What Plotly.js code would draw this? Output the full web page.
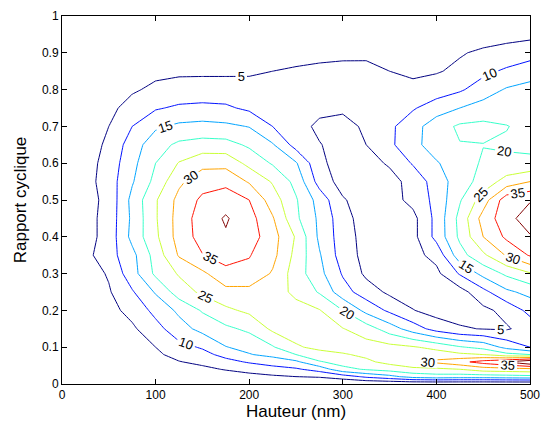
<!DOCTYPE html>
<html>
<head>
<meta charset="utf-8">
<script src="https://cdn.plot.ly/plotly-3.0.1.min.js"></script>
<style>html,body{margin:0;padding:0;background:#fff;}#chart{width:542px;height:427px;}</style>
</head>
<body>
<div id="chart"></div>
<script>
// Hauteur (nm)
const hauteur = [0,25,50,75,100,125,150,175,200,225,250,275,300,325,350,375,400,425,450,475,500];
// Rapport cyclique
const rapport = [0,0.02,0.04,0.06,0.08,0.1,0.15,0.2,0.25,0.3,0.35,0.4,0.45,0.5,0.55,0.6,0.65,0.7,0.75,0.8,0.85,0.9,0.95,1];

// z values, one row per rapport cyclique value
const r000 = [0,0,0,0,0,0,0,0,0,0,0,0,0,0,0,0,0,0,0,0,0];
const r002 = [0,0.2,0.4,0.7,1.1,1.6,2,2.7,3.3,4.2,5,5.5,7.5,11,13.5,17,18,17.5,17.5,18,18.5];
const r004 = [0,0.4,0.8,1.3,2.2,3.3,4,5.3,6.8,8.3,9.3,12,18.5,20.5,22,23.5,24,25,27.5,28,28.5];
const r006 = [0,0.6,1.2,2,3.3,4.8,6,8.5,10.5,12,14,19.5,22,24,26.5,29.5,31,33.5,37,40.3,45];
const r008 = [0,0.8,1.6,2.5,4.2,6.5,8.5,11.5,14.7,16.5,20,23.5,24.5,26,27.5,28,27.5,26,25,21.5,20];
const r010 = [0,1,2,3,5,8.5,10.5,14.8,16.5,19.5,24.5,26,27,27,26.5,25.5,23.5,20.5,18.5,13.5,10];
const r015 = [0,1.5,3,4.2,8.2,13,16.5,19,21,26,27,27,25.2,22.5,17.5,12.5,8,5.5,4.8,4.5,7];
const r020 = [0,2,3.5,6.5,11.5,16,20.5,24,26,27,26.5,25.3,20,13.5,9,5.2,3,3,3.8,6.5,11.5];
const r025 = [0,2.2,4.5,9.5,15.5,22.5,26,28.5,28.5,27,24,19.5,12,7.5,4,2.5,2.5,3,8.5,14,16.5];
const r030 = [0,2.5,5.5,13,21,25.5,29,33.5,33.5,29.5,22.5,16.5,9.5,4,2.5,2.5,3.8,10.5,16.5,21,24.5];
const r035 = [0,3.5,8,13.5,22,30.5,34.8,37,35.3,31.5,23.5,15.5,7.5,3.5,2.5,3.5,6.5,18,24,30.5,35.5];
const r040 = [0,3,7,16.5,24,32,37,39.5,37.5,32,24.5,14,7.5,3,2,3.5,11.5,21,30,36,39.5];
const r045 = [0,3,7,16,24.5,32,37.5,40.5,37,30.5,21,14,7,2.5,2,3.5,11.5,21.5,32,38,43];
const r050 = [0,3,6.5,16.5,24.5,31.5,36,38,35,27.5,20.5,13,5.5,2.5,3,6.5,11.5,19.5,27.5,38,39.5];
const r055 = [0,3,7.5,14.5,21.5,29,33,33.5,29.5,24.5,18.5,8,3,2.5,3.5,6.5,12.5,17.5,22,27,30];
const r060 = [0,2.8,7,13.5,20,25.3,28.5,28.5,23.5,19.5,15.5,6,3,3.5,5.5,10.5,14.5,18,20.5,21,21];
const r065 = [0,2.5,6,12.5,18,21,22,21.8,19.2,15.5,8,5.2,3.5,5,9,13.5,17.5,19.8,19.9,19.4,19];
const r070 = [0,2.5,5,10,14.2,16,16.5,16,14.8,10,6.5,4.2,3,6,9,13,17.8,20.8,21.2,20.2,18.5];
const r075 = [0,2.5,4,6.5,9.5,10.8,11.2,10.8,9,7.5,6.8,6,6,6.5,7.5,9.5,12.5,15,17,17.5,17.5];
const r080 = [0,2,3.5,4.5,5.8,6.8,7,7,6.8,6.6,6.6,6.8,7,7,6.8,6,7.5,9.3,12.5,15.5,16.5];
const r085 = [0,1.5,2.8,3.6,4.1,4.2,4.2,4.2,4.3,5,5.5,5.8,5.9,5.8,5,4.3,4.6,6,8.8,10.8,13];
const r090 = [0,0.5,1,1.5,2,2.3,2.5,2.5,2.6,3,3.5,4,4.3,4.4,4,3.5,3.5,4.6,5.8,6.8,7.7];
const r095 = [0,0.3,0.5,0.8,1,1.2,1.3,1.3,1.4,1.6,1.8,2,2.2,2.2,2,1.8,1.8,2.3,2.8,3.3,3.8];
const r100 = [0,0,0,0,0,0,0,0,0,0,0,0,0,0,0,0,0,0,0,0,0];

const zGrid = [r000,r002,r004,r006,r008,r010,r015,r020,r025,r030,r035,r040,r045,r050,r055,r060,r065,r070,r075,r080,r085,r090,r095,r100];

const xTicks = [0,100,200,300,400,500];
const yTicks = [0,0.1,0.2,0.3,0.4,0.5,0.6,0.7,0.8,0.9,1];

const jetScale = [
  [0,'#000080'],[1/7,'#0012ff'],[2/7,'#00a4ff'],[3/7,'#36ffc9'],
  [4/7,'#c9ff36'],[5/7,'#ffa400'],[6/7,'#ff1200'],[1,'#800000']
];

const fontFam = 'Liberation Sans, Arial, sans-serif';

const trace = {
  type: 'contour',
  x: hauteur,
  y: rapport,
  z: zGrid,
  colorscale: jetScale,
  showscale: false,
  autocontour: false,
  contours: {
    start: 5, end: 40, size: 5,
    coloring: 'lines',
    showlabels: true,
    labelfont: {family: fontFam, size: 13, color: '#000'}
  },
  line: {width: 1, smoothing: 0},
  hoverinfo: 'skip'
};

const axisCommon = {
  showline: true, linecolor: '#000', linewidth: 1, mirror: 'allticks',
  ticks: 'inside', ticklen: 5, tickcolor: '#000', tickwidth: 1,
  showgrid: false, zeroline: false,
  tickfont: {family: fontFam, size: 12, color: '#000'}
};

const layout = {
  width: 542, height: 427,
  margin: {l: 62, r: 12, t: 16, b: 43},
  paper_bgcolor: '#fff', plot_bgcolor: '#fff',
  showlegend: false,
  xaxis: Object.assign({}, axisCommon, {
    range: [0, 500], tickvals: xTicks, ticktext: xTicks.map(String),
    title: {text: 'Hauteur (nm)', font: {family: fontFam, size: 17, color: '#000'}, standoff: 2}
  }),
  yaxis: Object.assign({}, axisCommon, {
    range: [0, 1], tickvals: yTicks, ticktext: yTicks.map(String),
    title: {text: 'Rapport cyclique', font: {family: fontFam, size: 17, color: '#000'}, standoff: 10}
  })
};

Plotly.newPlot('chart', [trace], layout, {staticPlot: true, displayModeBar: false});
</script>
</body>
</html>
